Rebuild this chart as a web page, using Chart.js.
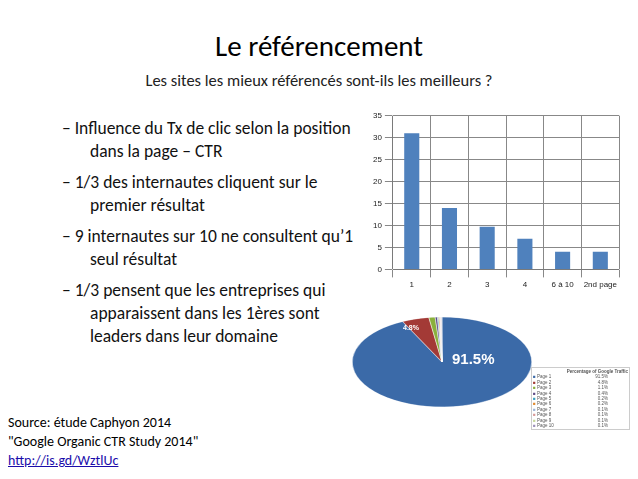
<!DOCTYPE html>
<html><head><meta charset="utf-8">
<script src="https://cdn.jsdelivr.net/npm/chart.js@4"></script>
<style>
body{margin:0;width:638px;height:479px;background:#fff;font-family:Calibri,Carlito,"Open Sans",sans-serif;position:relative;overflow:hidden}
.abs{position:absolute}
#title{left:0;width:638px;top:28px;text-align:center;font-size:29px;color:#000}
#sub{left:0;width:638px;top:70px;text-align:center;font-size:16.5px;color:#222}
ul{position:absolute;left:62px;top:117px;width:300px;margin:0;padding:0;list-style:none;font-size:17.5px;line-height:23px;color:#111}
li{padding-left:28px;text-indent:-28px;margin-bottom:8px}
#src{left:8px;top:413px;font-size:14px;line-height:19px}
#src a{color:#1a0dab}
#pieTable{left:531px;top:367px;width:95px;font:4.5px Arial,sans-serif;color:#555;border:1px solid #ccc;line-height:5.4px;padding:1px}
</style></head><body>
<div id="title" class="abs">Le référencement</div>
<div id="sub" class="abs">Les sites les mieux référencés sont-ils les meilleurs ?</div>
<ul>
<li>– Influence du Tx de clic selon la position dans la page – CTR</li>
<li>– 1/3 des internautes cliquent sur le premier résultat</li>
<li>– 9 internautes sur 10 ne consultent qu’1 seul résultat</li>
<li>– 1/3 pensent que les entreprises qui apparaissent dans les 1ères sont leaders dans leur domaine</li>
</ul>
<div id="src" class="abs">Source: étude Caphyon 2014<br>"Google Organic CTR Study 2014"<br><a href="#">http://is.gd/WztlUc</a></div>
<div class="abs" style="left:370px;top:108px;width:250px;height:185px"><canvas id="bar"></canvas></div>
<div class="abs" style="left:352px;top:272px;width:180px;height:180px;transform:scaleY(0.5)"><canvas id="pie"></canvas></div>
<div class="abs" style="left:452px;top:350px;color:#fff;font:bold 15px Arial,sans-serif">91.5%</div>
<div class="abs" style="left:403px;top:324px;color:#fff;font:bold 7px Arial,sans-serif">4.8%</div>
<div id="pieTable" class="abs"></div>
<script>
const positions = ['1', '2', '3', '4', '6 à 10', '2nd page'];
const ctrValues = [31, 14, 9.7, 7, 4, 4];
const pages = ['Page 1','Page 2','Page 3','Page 4','Page 5','Page 6','Page 7','Page 8','Page 9','Page 10'];
const trafficShare = [91.5, 4.8, 1.1, 0.4, 0.2, 0.2, 0.1, 0.1, 0.1, 0.1];
const pageColors = ['#3b6aa8','#a33a36','#8ab03c','#5d4a85','#3aa0c0','#e08a2e','#9db4d8','#d89a98','#c6d89a','#9c90b8'];

new Chart(document.getElementById('bar'), {
  type: 'bar',
  data: { labels: positions, datasets: [{ data: ctrValues, backgroundColor: '#4f81bd', categoryPercentage: 0.8, barPercentage: 0.5 }] },
  options: {
    responsive: true, maintainAspectRatio: false, animation: false,
    plugins: { legend: { display: false }, tooltip: { enabled: false } },
    scales: {
      x: { grid: { color: '#888', offset: true }, ticks: { color: '#222', font: { size: 8 }, maxRotation: 0, autoSkip: false } },
      y: { min: 0, max: 35, ticks: { stepSize: 5, color: '#222', font: { size: 8 } }, grid: { color: '#888' } }
    }
  }
});

new Chart(document.getElementById('pie'), {
  type: 'pie',
  data: { labels: pages, datasets: [{ data: trafficShare, backgroundColor: pageColors, borderColor: '#fff', borderWidth: 0.5 }] },
  options: {
    responsive: true, maintainAspectRatio: false, animation: false, rotation: 0,
    plugins: { legend: { display: false }, tooltip: { enabled: false } }
  }
});

let rows = '<div style="text-align:right;font-weight:bold">Percentage of Google Traffic</div>';
pages.forEach((p, i) => {
  rows += `<div><span style="color:${pageColors[i]}">■</span> ${p}<span style="float:right;margin-right:20px">${trafficShare[i]}%</span></div>`;
});
document.getElementById('pieTable').innerHTML = rows;
</script>
</body></html>
